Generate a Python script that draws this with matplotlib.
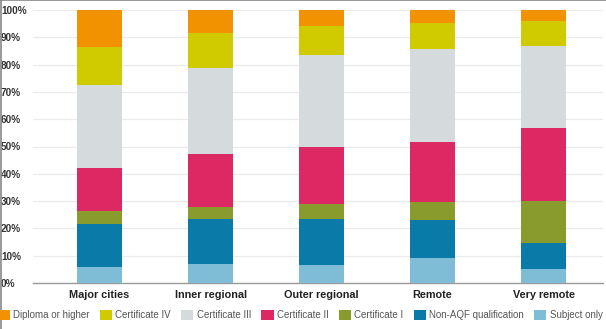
import matplotlib.pyplot as plt
import numpy as np

regions = ['Major cities', 'Inner regional', 'Outer regional', 'Remote', 'Very remote']

# share of students (%) by highest qualification, bottom to top of each stack
subject_only = [6.0, 6.8, 6.6, 9.0, 5.0]
non_aqf = [15.5, 16.5, 16.8, 14.1, 9.5]
cert_1 = [5.0, 4.4, 5.4, 6.5, 15.6]
cert_2 = [15.7, 19.4, 20.9, 22.2, 26.8]
cert_3 = [30.3, 31.8, 33.8, 33.9, 29.9]
cert_4 = [14.1, 12.6, 10.6, 9.4, 9.3]
diploma = [13.4, 8.5, 5.9, 4.9, 3.9]

series = [
    ('Subject only', subject_only, '#7fbdd6'),
    ('Non-AQF qualification', non_aqf, '#0a7ba8'),
    ('Certificate I', cert_1, '#8a9b2d'),
    ('Certificate II', cert_2, '#dc2863'),
    ('Certificate III', cert_3, '#d5dadd'),
    ('Certificate IV', cert_4, '#d0cb00'),
    ('Diploma or higher', diploma, '#f39200'),
]

plt.rcParams['font.family'] = ['Liberation Sans', 'DejaVu Sans']

fig = plt.figure(figsize=(6.06, 3.29), dpi=100)
ax = fig.add_axes([33 / 606, 1 - 283 / 329, 570 / 606, 273 / 329])

x = np.arange(len(regions))
bottom = np.zeros(len(regions))
handles = {}
for name, vals, col in series:
    vals = np.array(vals)
    handles[name] = ax.bar(x, vals, bottom=bottom, width=0.405, color=col,
                           edgecolor='none', zorder=3)
    bottom += vals

ax.set_xlim(-0.6, 4.536)
ax.set_ylim(0, 100)
ax.set_yticks(np.arange(0, 101, 10))
ax.set_yticklabels([f'{v}%' for v in range(0, 101, 10)])
ax.set_xticks(x)
ax.set_xticklabels(regions)
ax.grid(axis='y', color='#ebebeb', linewidth=0.9, zorder=0)
for s in ['top', 'right', 'left']:
    ax.spines[s].set_visible(False)
ax.spines['bottom'].set_color('#9a9a9a')
ax.spines['bottom'].set_linewidth(1.0)
ax.tick_params(axis='y', length=0, pad=0, labelsize=7.2, labelcolor='#333333')
ax.tick_params(axis='x', length=0, pad=5, labelsize=7.8, labelcolor='#222222')
for lbl in ax.get_yticklabels() + ax.get_xticklabels():
    lbl.set_fontweight('bold')
for lbl in ax.get_yticklabels():
    lbl.set_horizontalalignment('left')
    lbl.set_x(-32 / 570)

order = ['Diploma or higher', 'Certificate IV', 'Certificate III', 'Certificate II',
         'Certificate I', 'Non-AQF qualification', 'Subject only']
fig.legend([handles[n] for n in order], order, loc='center left',
           bbox_to_anchor=(-0.004, 1 - 315 / 329), ncol=7, frameon=False,
           fontsize=7.0, labelcolor='#555555', handlelength=1.25, handleheight=1.25,
           handletextpad=0.35, columnspacing=1.05, borderaxespad=0, borderpad=0)

# thin frame on the top and left edges
fig.add_artist(plt.Line2D([0, 1], [0.999, 0.999], color='#888888', linewidth=1.2,
                          transform=fig.transFigure))
fig.add_artist(plt.Line2D([0.001, 0.001], [0, 1], color='#888888', linewidth=1.2,
                          transform=fig.transFigure))

fig.savefig('out.png', dpi=100)
